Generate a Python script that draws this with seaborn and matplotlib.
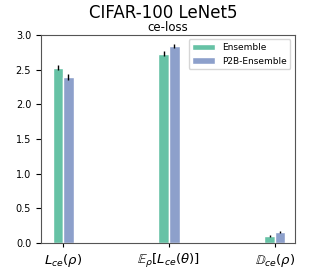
import pandas as pd
import matplotlib
matplotlib.use("Agg")
import matplotlib.pyplot as plt
import seaborn as sns

categories = [r"$L_{ce}(\rho)$", r"$\mathbb{E}_{\rho}[L_{ce}(\theta)]$", r"$\mathbb{D}_{ce}(\rho)$"]
methods = ["Ensemble", "P2B-Ensemble"]
ensemble_vals = [2.53, 2.73, 0.10]
p2b_vals = [2.39, 2.84, 0.16]
ensemble_err = [0.04, 0.04, 0.01]
p2b_err = [0.04, 0.03, 0.01]
colors = ["#66c2a5", "#8da0cb"]

df = pd.DataFrame({
    "metric": categories * 2,
    "method": [methods[0]] * 3 + [methods[1]] * 3,
    "value": ensemble_vals + p2b_vals,
})

sns.set_style("ticks")
plt.rcParams.update({"text.color": "black", "xtick.color": "black",
                     "ytick.color": "black", "axes.labelcolor": "black"})
fig, ax = plt.subplots(figsize=(3.27, 2.73), dpi=100)
sns.barplot(data=df, x="metric", y="value", hue="method", palette=colors,
            width=0.2, gap=0, errorbar=None, ax=ax, saturation=1)

errs = ensemble_err + p2b_err
for patch, val, err in zip(ax.patches, df["value"], errs):
    cx = patch.get_x() + patch.get_width() / 2
    ax.errorbar(cx, val, yerr=err, color="black", lw=1, capsize=0)

ax.set_xlim(-0.21, 2.19)
ax.set_ylim(0, 3.0)
ax.set_xlabel("")
ax.set_ylabel("")
ax.tick_params(axis="y", labelsize=7)
ax.tick_params(axis="x", labelsize=9.5, length=3)
ax.set_title("ce-loss", fontsize=8.5, pad=3)
fig.suptitle("CIFAR-100 LeNet5", fontsize=12, y=0.985)
for s in ax.spines.values():
    s.set_color("#555555")
ax.legend(loc="upper right", fontsize=6.5, frameon=True, handlelength=2.5)
fig.subplots_adjust(left=0.125, right=0.902, top=0.872, bottom=0.11)
fig.savefig("out.png", dpi=100)
